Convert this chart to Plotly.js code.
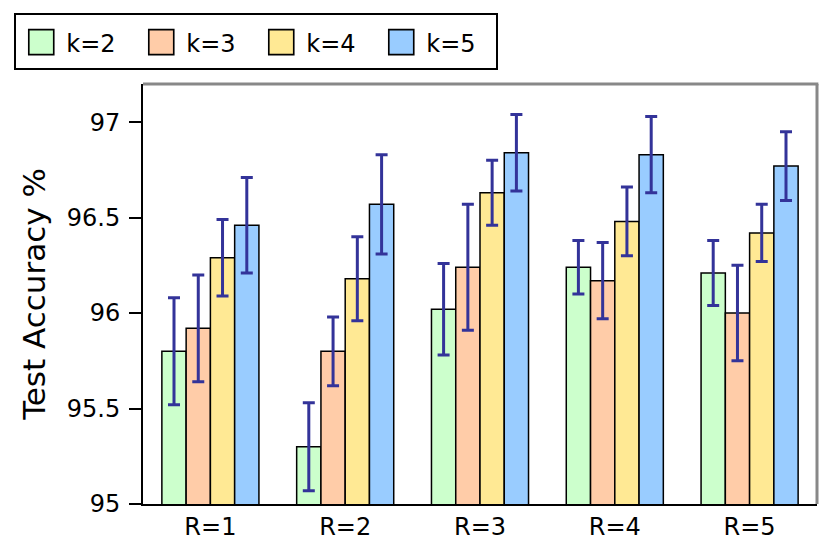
<!DOCTYPE html>
<html>
<head>
<meta charset="utf-8">
<script src="https://cdn.plot.ly/plotly-3.0.1.min.js"></script>
<style>
  body { margin: 0; background: #fff; }
  #chart { width: 830px; height: 554px; }
</style>
</head>
<body>
<div id="chart"></div>
<script>
var groups = ["R=1", "R=2", "R=3", "R=4", "R=5"];
var seriesNames = ["k=2", "k=3", "k=4", "k=5"];
var colors = ["#ccffcc", "#ffcca8", "#ffe994", "#99ccff"];

// mean accuracy per R, one array per k
var acc_k2 = [95.80, 95.30, 96.02, 96.24, 96.21];
var acc_k3 = [95.92, 95.80, 96.24, 96.17, 96.00];
var acc_k4 = [96.29, 96.18, 96.63, 96.48, 96.42];
var acc_k5 = [96.46, 96.57, 96.84, 96.83, 96.77];

// error bar half-widths
var err_k2 = [0.28, 0.23, 0.24, 0.14, 0.17];
var err_k3 = [0.28, 0.18, 0.33, 0.20, 0.25];
var err_k4 = [0.20, 0.22, 0.17, 0.18, 0.15];
var err_k5 = [0.25, 0.26, 0.20, 0.20, 0.18];

var yTicks = [95, 95.5, 96, 96.5, 97];
var yTickText = ["95", "95.5", "96", "96.5", "97"];

var allAcc = [acc_k2, acc_k3, acc_k4, acc_k5];
var allErr = [err_k2, err_k3, err_k4, err_k5];

var data = [];
for (var i = 0; i < seriesNames.length; i++) {
  data.push({
    type: "bar",
    name: seriesNames[i],
    x: groups,
    y: allAcc[i],
    base: 0,
    marker: { color: colors[i], line: { color: "#000", width: 1.5 } },
    error_y: { type: "data", array: allErr[i], visible: true,
               color: "#333399", thickness: 3, width: 6 },
    hoverinfo: "none"
  });
}

var font = "DejaVu Sans, sans-serif";

var layout = {
  width: 830,
  height: 554,
  margin: { l: 143, r: 13, t: 84, b: 50 },
  paper_bgcolor: "#fff",
  plot_bgcolor: "#fff",
  barmode: "group",
  bargap: 0.28,
  bargroupgap: 0,
  font: { family: font, size: 24, color: "#000" },
  showlegend: true,
  legend: {
    orientation: "h",
    x: -0.191, xanchor: "left",
    y: 1.157, yanchor: "top",
    bgcolor: "#fff",
    bordercolor: "#000",
    borderwidth: 2,
    entrywidth: 65,
    itemwidth: 40,
    font: { family: font, size: 24, color: "#000" }
  },
  xaxis: {
    type: "category",
    range: [-0.5, 4.5],
    showline: true, linecolor: "#000", linewidth: 2,
    ticks: "", showgrid: false, zeroline: false,
    tickfont: { family: font, size: 24 }
  },
  yaxis: {
    range: [95, 97.2],
    tickvals: yTicks, ticktext: yTickText,
    showline: true, linecolor: "#000", linewidth: 2,
    ticks: "outside", ticklen: 12, tickwidth: 2, tickcolor: "#000",
    ticklabelstandoff: 4,
    showgrid: false, zeroline: false,
    tickfont: { family: font, size: 24 },
    title: { text: "Test Accuracy %", font: { family: font, size: 31 }, standoff: 12 }
  },
  shapes: [
    { type: "line", xref: "paper", yref: "paper", x0: 0, x1: 1.002, y0: 1, y1: 1,
      line: { color: "#888", width: 3 } },
    { type: "line", xref: "paper", yref: "paper", x0: 1, x1: 1, y0: 0, y1: 1,
      line: { color: "#888", width: 3 } }
  ]
};

Plotly.newPlot("chart", data, layout, { displayModeBar: false, staticPlot: true }).then(function () {
  // bigger legend swatches, like the original
  document.querySelectorAll(".legend .legendpoints path").forEach(function (p) {
    var t = p.getAttribute("transform") || "";
    p.setAttribute("transform", t + " scale(2.08)");
    p.style.strokeWidth = "0.8px";
  });
  // a little more room above and below the legend entries
  var bg = document.querySelector(".legend rect.bg");
  if (bg) {
    var h = parseFloat(bg.getAttribute("height"));
    bg.setAttribute("y", -4);
    bg.setAttribute("height", h + 8);
  }
});
</script>
</body>
</html>
